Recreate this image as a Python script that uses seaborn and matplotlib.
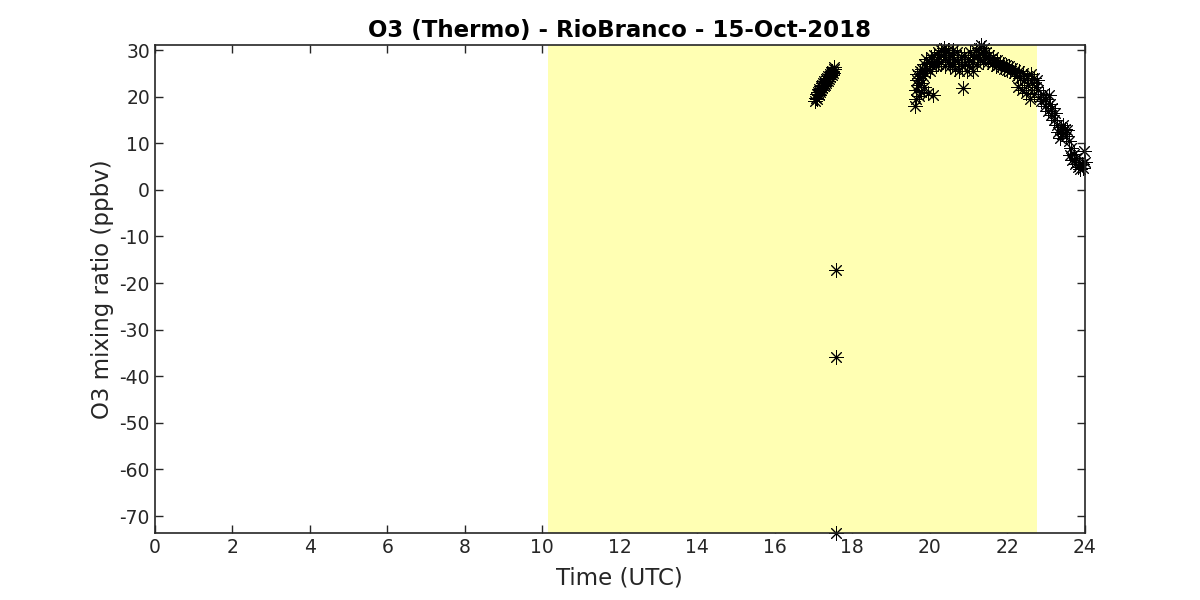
import matplotlib
matplotlib.use('Agg')
import matplotlib.pyplot as plt
import seaborn as sns
import pandas as pd

# 数据 (时间 UTC 小时, O3 ppbv)
time_a = [17.05, 17.07, 17.08, 17.10, 17.12, 17.13, 17.15, 17.17, 17.18, 17.20,
          17.22, 17.23, 17.25, 17.27, 17.28, 17.30, 17.32, 17.33, 17.35, 17.37,
          17.38, 17.40, 17.42, 17.43, 17.45, 17.47, 17.48, 17.50, 17.52, 17.53]
o3_a = [19.0, 19.8, 20.5, 19.6, 21.0, 20.3, 21.6, 21.0, 22.2, 21.4,
        22.5, 21.9, 23.0, 22.3, 23.4, 22.6, 23.8, 23.0, 24.1, 23.4,
        24.5, 23.8, 24.8, 24.2, 25.2, 24.6, 25.5, 25.0, 25.9, 26.3]

# 异常值
time_out = [17.57, 17.57, 17.57]
o3_out = [-17.2, -35.8, -73.6]

time_b = [19.62, 19.64, 19.65, 19.67, 19.68, 19.70, 19.72, 19.73, 19.75, 19.77,
          19.78, 19.80, 19.82, 19.84, 19.86, 19.88, 19.90, 19.92, 19.95, 19.97,
          20.00, 20.02, 20.05, 20.08, 20.10, 20.12, 20.15, 20.18, 20.20, 20.22,
          20.25, 20.28, 20.30, 20.33, 20.36, 20.38, 20.40, 20.43, 20.46, 20.48,
          20.50, 20.53, 20.56, 20.58, 20.60, 20.63, 20.66, 20.70, 20.73, 20.76,
          20.80, 20.83, 20.86, 20.88, 20.92, 20.95, 20.98, 21.02, 21.05, 21.08,
          21.12, 21.15, 21.18, 21.22, 21.25, 21.28, 21.30, 21.33, 21.36, 21.38,
          21.40, 21.43, 21.46, 21.50, 21.53, 21.56, 21.60, 21.63, 21.66, 21.70,
          21.73, 21.77, 21.80, 21.84, 21.88, 21.92, 21.96, 22.00, 22.04, 22.08,
          22.12, 22.16, 22.20, 22.24, 22.28, 22.30, 22.34, 22.38, 22.40, 22.44,
          22.48, 22.50, 22.54, 22.58, 22.60, 22.64, 22.68, 22.70, 22.73, 22.76,
          22.80, 22.84, 22.88, 22.92, 22.96, 23.00, 23.04, 23.08, 23.10, 23.13,
          23.16, 23.20, 23.24, 23.28, 23.32, 23.35, 23.38, 23.42, 23.45, 23.48,
          23.52, 23.55, 23.58, 23.62, 23.65, 23.68, 23.72, 23.75, 23.78, 23.82,
          23.85, 23.88, 23.92, 23.95, 23.98, 24.00]
o3_b = [18.0, 19.5, 21.5, 23.5, 24.8, 22.5, 20.2, 24.0, 25.5, 23.0,
        21.0, 26.0, 24.5, 22.0, 27.0, 25.0, 28.0, 26.0, 20.8, 27.5,
        25.5, 28.5, 26.5, 20.4, 27.5, 29.0, 26.5, 28.0, 29.5, 27.0,
        28.5, 30.0, 27.5, 29.0, 30.5, 28.0, 26.5, 29.5, 27.5, 30.0,
        28.5, 26.5, 29.0, 27.0, 30.0, 28.0, 26.0, 29.5, 27.5, 25.5,
        28.5, 26.5, 21.9, 29.0, 27.0, 25.5, 28.0, 26.5, 29.5, 27.5,
        25.5, 28.5, 30.0, 27.0, 29.0, 30.5, 28.0, 31.0, 29.5, 27.5,
        30.5, 28.5, 29.5, 27.5, 29.0, 28.0, 27.0, 28.5, 27.5, 26.5,
        27.8, 26.8, 27.5, 26.3, 27.0, 26.0, 26.8, 25.8, 26.5, 25.5,
        26.2, 25.0, 25.8, 24.5, 22.0, 25.5, 24.0, 21.5, 25.0, 23.5,
        20.8, 24.5, 22.5, 19.5, 24.8, 23.0, 20.5, 24.0, 22.0, 23.5,
        21.5, 20.0, 19.0, 20.5, 18.0, 19.5, 17.0, 20.3, 18.5, 16.0,
        17.5, 15.0, 16.5, 14.0, 12.5, 11.2, 13.5, 12.0, 14.0, 13.0,
        11.5, 12.8, 10.5, 7.5, 9.0, 6.5, 7.8, 5.5, 6.8, 5.0,
        6.0, 4.5, 5.5, 4.8, 8.4, 6.0]

# 黄色背景区间
span_start, span_end = 10.14, 22.76

df = pd.DataFrame({'Time': time_a + time_out + time_b,
                   'O3': o3_a + o3_out + o3_b})

sns.set_style('ticks')
plt.rcParams['font.family'] = ['DejaVu Sans']
plt.rcParams['axes.unicode_minus'] = False

fig = plt.figure(figsize=(12, 6), dpi=100)
ax = fig.add_axes([0.129, 0.112, 0.775, 0.813])

ax.axvspan(span_start, span_end, color='#ffffb3', lw=0, zorder=3)

sns.scatterplot(data=df, x='Time', y='O3', ax=ax, marker=(8, 2, 0),
                color='black', edgecolor='black', linewidth=0.7, s=95,
                zorder=4, clip_on=False, legend=False)

ax.set_xlim(0, 24)
ax.set_ylim(-73.6, 31.1)
ax.set_xticks(range(0, 25, 2))
ax.set_yticks(range(-70, 31, 10))

dark = '#262626'
for s in ax.spines.values():
    s.set_visible(True)
    s.set_color(dark)
    s.set_linewidth(1.2)
    s.set_zorder(5)
ax.tick_params(direction='in', length=6, width=1.0, colors=dark,
               labelsize=13.5, top=True, right=True)

ax.set_title('O3 (Thermo) - RioBranco - 15-Oct-2018', fontsize=16.5,
             fontweight='bold', color='black', pad=6)
ax.set_xlabel('Time (UTC)', fontsize=16.5, color=dark, labelpad=7)
ax.set_ylabel('O3 mixing ratio (ppbv)', fontsize=16.5, color=dark, labelpad=4)

plt.savefig('out.png', dpi=100)
